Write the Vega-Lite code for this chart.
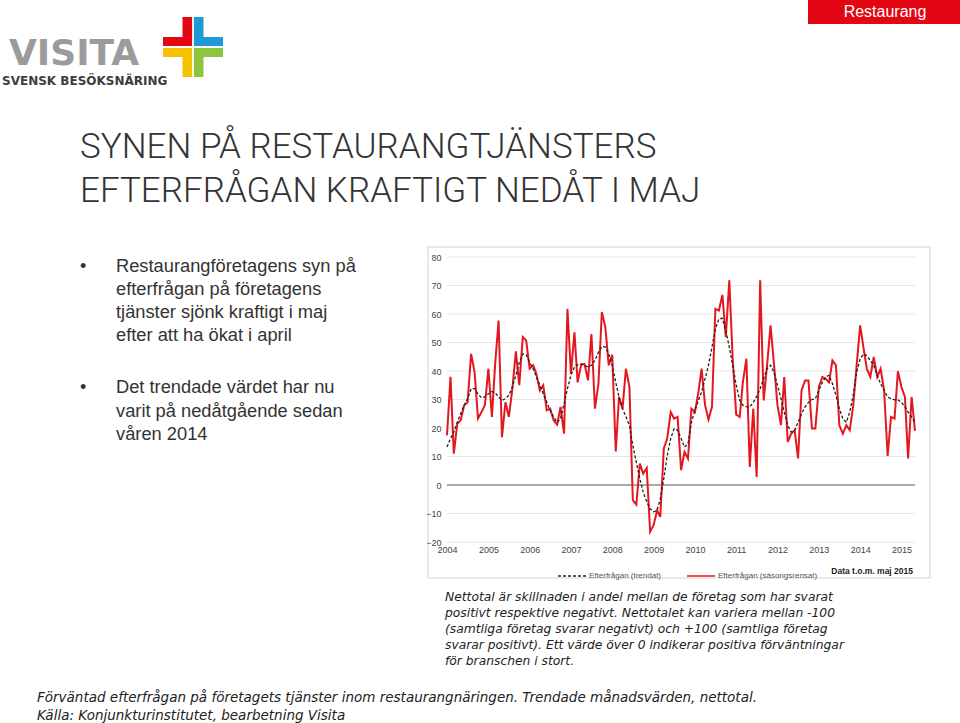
{
  "$schema": "https://vega.github.io/schema/vega-lite/v6.json",
  "width": 960,
  "height": 723,
  "padding": 0,
  "autosize": "none",
  "background": "white",
  "config": {
    "view": {"stroke": null},
    "axisX": {"domain": false, "ticks": false, "grid": false, "labelFont": "Liberation Sans", "labelFontSize": 9, "labelColor": "#444444", "labelPadding": 3, "labelOverlap": false, "labelBound": false, "labelFlush": false},
    "axisY": {"domain": false, "ticks": false, "grid": false, "labelFont": "Liberation Sans", "labelFontSize": 9, "labelColor": "#444444", "labelPadding": 2, "labelOverlap": false, "labelBound": false}
  },
  "datasets": {
    "series": [
      {"d":"2004-01-01","s":17.4,"t":13.3},{"d":"2004-02-01","s":38,"t":16.3},{"d":"2004-03-01","s":11,"t":18.6},{"d":"2004-04-01","s":21.5,"t":22},{"d":"2004-05-01","s":22.7,"t":25},{"d":"2004-06-01","s":28,"t":28},{"d":"2004-07-01","s":29,"t":30.3},{"d":"2004-08-01","s":46,"t":33.8},{"d":"2004-09-01","s":39.6,"t":33.8},{"d":"2004-10-01","s":23.3,"t":32},{"d":"2004-11-01","s":25.6,"t":30.6},{"d":"2004-12-01","s":28,"t":30.9},
      {"d":"2005-01-01","s":40.8,"t":32},{"d":"2005-02-01","s":23.9,"t":32.8},{"d":"2005-03-01","s":42,"t":32.4},{"d":"2005-04-01","s":57.7,"t":30.9},{"d":"2005-05-01","s":16.8,"t":29.7},{"d":"2005-06-01","s":29,"t":30.3},{"d":"2005-07-01","s":23.9,"t":31.5},{"d":"2005-08-01","s":33.8,"t":34.4},{"d":"2005-09-01","s":46.9,"t":38.5},{"d":"2005-10-01","s":35,"t":43},{"d":"2005-11-01","s":51.9,"t":46},{"d":"2005-12-01","s":50.7,"t":45.7},
      {"d":"2006-01-01","s":40.8,"t":43},{"d":"2006-02-01","s":42,"t":40.8},{"d":"2006-03-01","s":39,"t":37.9},{"d":"2006-04-01","s":33.2,"t":35},{"d":"2006-05-01","s":35,"t":32},{"d":"2006-06-01","s":26.2,"t":29},{"d":"2006-07-01","s":26.8,"t":26.2},{"d":"2006-08-01","s":22.7,"t":23.9},{"d":"2006-09-01","s":21.2,"t":22},{"d":"2006-10-01","s":27.4,"t":23.3},{"d":"2006-11-01","s":18,"t":28.5},{"d":"2006-12-01","s":61.8,"t":33.8},
      {"d":"2007-01-01","s":39,"t":38.5},{"d":"2007-02-01","s":53.6,"t":41.4},{"d":"2007-03-01","s":36,"t":42.2},{"d":"2007-04-01","s":42.2,"t":42.5},{"d":"2007-05-01","s":42.5,"t":42},{"d":"2007-06-01","s":36.7,"t":41.4},{"d":"2007-07-01","s":53,"t":42},{"d":"2007-08-01","s":26.8,"t":43.7},{"d":"2007-09-01","s":35.5,"t":46.6},{"d":"2007-10-01","s":60.7,"t":48.6},{"d":"2007-11-01","s":55.4,"t":48.4},{"d":"2007-12-01","s":42,"t":46},
      {"d":"2008-01-01","s":45.7,"t":42},{"d":"2008-02-01","s":11.8,"t":36},{"d":"2008-03-01","s":30.9,"t":30.9},{"d":"2008-04-01","s":26.8,"t":26.8},{"d":"2008-05-01","s":40.8,"t":24},{"d":"2008-06-01","s":34.4,"t":20.9},{"d":"2008-07-01","s":-5.3,"t":13.9},{"d":"2008-08-01","s":-6.9,"t":8},{"d":"2008-09-01","s":7.5,"t":2.2},{"d":"2008-10-01","s":4,"t":-2.5},{"d":"2008-11-01","s":6,"t":-5.9},{"d":"2008-12-01","s":-16.4,"t":-8.3},
      {"d":"2009-01-01","s":-14,"t":-9.4},{"d":"2009-02-01","s":-8.9,"t":-8.9},{"d":"2009-03-01","s":-11.2,"t":-4.8},{"d":"2009-04-01","s":12.8,"t":2.2},{"d":"2009-05-01","s":16.3,"t":10.3},{"d":"2009-06-01","s":25.6,"t":16.3},{"d":"2009-07-01","s":23.3,"t":19.8},{"d":"2009-08-01","s":23.9,"t":19.2},{"d":"2009-09-01","s":5.2,"t":16.3},{"d":"2009-10-01","s":11.6,"t":13.3},{"d":"2009-11-01","s":9.3,"t":14.5},{"d":"2009-12-01","s":26.8,"t":22},
      {"d":"2010-01-01","s":25.6,"t":26.2},{"d":"2010-02-01","s":32.6,"t":29.7},{"d":"2010-03-01","s":40.8,"t":32.6},{"d":"2010-04-01","s":28,"t":37.3},{"d":"2010-05-01","s":23,"t":42},{"d":"2010-06-01","s":27.4,"t":48.4},{"d":"2010-07-01","s":61.8,"t":54.8},{"d":"2010-08-01","s":61.2,"t":58.3},{"d":"2010-09-01","s":66.7,"t":58.5},{"d":"2010-10-01","s":51.9,"t":54.2},{"d":"2010-11-01","s":71.8,"t":48.4},{"d":"2010-12-01","s":44.3,"t":42},
      {"d":"2011-01-01","s":24.7,"t":35},{"d":"2011-02-01","s":23.9,"t":29.7},{"d":"2011-03-01","s":36.1,"t":28},{"d":"2011-04-01","s":44.3,"t":27.4},{"d":"2011-05-01","s":6.3,"t":27.4},{"d":"2011-06-01","s":26.8,"t":29},{"d":"2011-07-01","s":2.8,"t":31},{"d":"2011-08-01","s":71.8,"t":33.8},{"d":"2011-09-01","s":29.7,"t":37.3},{"d":"2011-10-01","s":42,"t":40.8},{"d":"2011-11-01","s":56,"t":42},{"d":"2011-12-01","s":42.5,"t":39.6},
      {"d":"2012-01-01","s":28,"t":35},{"d":"2012-02-01","s":21,"t":30.3},{"d":"2012-03-01","s":37.9,"t":25.6},{"d":"2012-04-01","s":15.1,"t":21},{"d":"2012-05-01","s":18,"t":18.6},{"d":"2012-06-01","s":19.2,"t":19.2},{"d":"2012-07-01","s":9.3,"t":22},{"d":"2012-08-01","s":33.2,"t":25},{"d":"2012-09-01","s":36.7,"t":27.4},{"d":"2012-10-01","s":36.7,"t":29},{"d":"2012-11-01","s":19.8,"t":30},{"d":"2012-12-01","s":19.8,"t":30.3},
      {"d":"2013-01-01","s":34.4,"t":33.2},{"d":"2013-02-01","s":37.9,"t":36},{"d":"2013-03-01","s":37.3,"t":37.9},{"d":"2013-04-01","s":36,"t":38.5},{"d":"2013-05-01","s":43.7,"t":35.5},{"d":"2013-06-01","s":42,"t":31.5},{"d":"2013-07-01","s":21,"t":26.8},{"d":"2013-08-01","s":18,"t":23.3},{"d":"2013-09-01","s":21,"t":22},{"d":"2013-10-01","s":19.2,"t":25.6},{"d":"2013-11-01","s":28,"t":31.5},{"d":"2013-12-01","s":42,"t":39.6},
      {"d":"2014-01-01","s":56,"t":44.3},{"d":"2014-02-01","s":47.8,"t":46},{"d":"2014-03-01","s":40.8,"t":45.4},{"d":"2014-04-01","s":37.9,"t":43.7},{"d":"2014-05-01","s":44.9,"t":42},{"d":"2014-06-01","s":37.9,"t":38.5},{"d":"2014-07-01","s":40.8,"t":35.5},{"d":"2014-08-01","s":33.2,"t":33.2},{"d":"2014-09-01","s":10.2,"t":30.9},{"d":"2014-10-01","s":23.9,"t":30.3},{"d":"2014-11-01","s":23.3,"t":29.9},{"d":"2014-12-01","s":39.9,"t":29.9},
      {"d":"2015-01-01","s":34.4,"t":29},{"d":"2015-02-01","s":30.9,"t":27.4},{"d":"2015-03-01","s":9.3,"t":25.6},{"d":"2015-04-01","s":30.9,"t":23.9},{"d":"2015-05-01","s":19,"t":22}
    ],
    "grid": [{"v":-20},{"v":-10},{"v":10},{"v":20},{"v":30},{"v":40},{"v":50},{"v":60},{"v":70},{"v":80}],
    "zero": [{"v":0}],
    "one": [{}]
  },
  "layer": [
    {"data": {"name": "one"}, "mark": {"type": "rect", "x": 428, "x2": 930, "y": 247, "y2": 578, "fill": null, "fillOpacity": 0, "stroke": "#e2e2e2", "strokeWidth": 1.5}},
    {"data": {"name": "grid"}, "mark": {"type": "rule", "stroke": "#e6e6e6", "strokeWidth": 1},
     "encoding": {
       "x": {"datum": {"year": 2004, "month": 1, "date": 1, "utc": true}, "type": "temporal", "scale": {"type": "utc", "domain": [{"year": 2004, "month": 1, "date": 1, "utc": true}, {"year": 2015, "month": 5, "date": 1, "utc": true}], "range": [447, 915]}, "axis": {"title": null, "zindex": 2, "offset": -181, "format": "%Y", "formatType": "utc", "tickCount": {"interval": "year", "step": 1}}},
       "x2": {"datum": {"year": 2015, "month": 5, "date": 1, "utc": true}},
       "y": {"field": "v", "type": "quantitative", "scale": {"domain": [-20, 80], "range": [542, 257]}, "axis": {"title": null, "zindex": 2, "offset": -443, "values": [-20, -10, 0, 10, 20, 30, 40, 50, 60, 70, 80]}}
     }},
    {"data": {"name": "zero"}, "mark": {"type": "rule", "stroke": "#aaaaaa", "strokeWidth": 2},
     "encoding": {
       "x": {"datum": {"year": 2004, "month": 1, "date": 1, "utc": true}, "type": "temporal"},
       "x2": {"datum": {"year": 2015, "month": 5, "date": 1, "utc": true}},
       "y": {"field": "v", "type": "quantitative"}
     }},
    {"data": {"name": "series"}, "mark": {"type": "line", "strokeWidth": 2},
     "encoding": {
       "x": {"field": "d", "type": "temporal"},
       "y": {"field": "s", "type": "quantitative"},
       "color": {"datum": "Efterfrågan (säsongsrensat)", "scale": {"domain": ["Efterfrågan (trendat)", "Efterfrågan (säsongsrensat)"], "range": ["#222222", "#e3171f"]}, "legend": {"title": null, "orient": "none", "legendX": 557, "legendY": 561, "direction": "horizontal", "symbolType": "stroke", "symbolSize": 784, "symbolStrokeWidth": 1.5, "labelFont": "Liberation Sans", "labelFontSize": 8, "labelColor": "#555555", "labelOffset": 2, "columnPadding": 22}},
       "strokeDash": {"datum": "Efterfrågan (säsongsrensat)", "scale": {"domain": ["Efterfrågan (trendat)", "Efterfrågan (säsongsrensat)"], "range": [[3, 2], [1, 0]]}, "legend": {"title": null, "orient": "none", "legendX": 557, "legendY": 561, "direction": "horizontal", "symbolType": "stroke", "symbolSize": 784, "symbolStrokeWidth": 1.5, "labelFont": "Liberation Sans", "labelFontSize": 8, "labelColor": "#555555", "labelOffset": 2, "columnPadding": 22}}
     }},
    {"data": {"name": "series"}, "mark": {"type": "line", "strokeWidth": 1.3},
     "encoding": {
       "x": {"field": "d", "type": "temporal"},
       "y": {"field": "t", "type": "quantitative"},
       "color": {"datum": "Efterfrågan (trendat)"},
       "strokeDash": {"datum": "Efterfrågan (trendat)"}
     }},
    {"data": {"name": "one"}, "mark": {"type": "text", "text": "Data t.o.m. maj 2015", "x": 913, "y": 571, "align": "right", "baseline": "middle", "font": "Liberation Sans", "fontSize": 8.5, "fontWeight": "bold", "color": "#222222"}},
    {"data": {"name": "one"}, "mark": {"type": "rect", "x": 808, "x2": 960, "y": 0, "y2": 24, "color": "#e30613"}},
    {"data": {"name": "one"}, "mark": {"type": "text", "text": "Restaurang", "x": 885, "y": 12, "align": "center", "baseline": "middle", "font": "Liberation Sans", "fontSize": 16, "color": "white"}},
    {"data": {"name": "one"}, "mark": {"type": "text", "text": "VISITA", "x": 9, "y": 65, "align": "left", "baseline": "alphabetic", "font": "DejaVu Sans", "fontSize": 36, "fontWeight": "bold", "color": "#9b9b9b"}},
    {"data": {"name": "one"}, "mark": {"type": "text", "text": "SVENSK BESÖKSNÄRING", "x": 2, "y": 85, "align": "left", "baseline": "alphabetic", "font": "DejaVu Sans", "fontSize": 12, "fontWeight": "bold", "color": "#3c3c3c"}},
    {"data": {"name": "one"}, "mark": {"type": "point", "shape": "M -0.35 -1 L -0.03 -1 L -0.03 -0.03 L -1 -0.03 L -1 -0.33 L -0.35 -0.33 Z", "filled": true, "opacity": 1, "size": 3600, "x": 193, "y": 47, "color": "#e30613"}},
    {"data": {"name": "one"}, "mark": {"type": "point", "shape": "M 0.03 -1 L 0.35 -1 L 0.35 -0.33 L 1 -0.33 L 1 -0.03 L 0.03 -0.03 Z", "filled": true, "opacity": 1, "size": 3600, "x": 193, "y": 47, "color": "#1e9ad6"}},
    {"data": {"name": "one"}, "mark": {"type": "point", "shape": "M -1 0.03 L -0.03 0.03 L -0.03 1 L -0.35 1 L -0.35 0.33 L -1 0.33 Z", "filled": true, "opacity": 1, "size": 3600, "x": 193, "y": 47, "color": "#f5c200"}},
    {"data": {"name": "one"}, "mark": {"type": "point", "shape": "M 0.03 0.03 L 1 0.03 L 1 0.33 L 0.35 0.33 L 0.35 1 L 0.03 1 Z", "filled": true, "opacity": 1, "size": 3600, "x": 193, "y": 47, "color": "#8cc63f"}},
    {"data": {"name": "one"}, "mark": {"type": "text", "text": ["SYNEN PÅ RESTAURANGTJÄNSTERS", "EFTERFRÅGAN KRAFTIGT NEDÅT I MAJ"], "x": 80, "y": 158, "lineHeight": 44, "align": "left", "baseline": "alphabetic", "font": "Roboto", "fontSize": 35, "fontWeight": 300, "color": "#333333"}},
    {"data": {"name": "one"}, "mark": {"type": "text", "text": "•", "x": 80, "y": 272, "align": "left", "baseline": "alphabetic", "font": "Liberation Sans", "fontSize": 18, "color": "#333333"}},
    {"data": {"name": "one"}, "mark": {"type": "text", "text": "•", "x": 80, "y": 393, "align": "left", "baseline": "alphabetic", "font": "Liberation Sans", "fontSize": 18, "color": "#333333"}},
    {"data": {"name": "one"}, "mark": {"type": "text", "text": ["Restaurangföretagens syn på", "efterfrågan på företagens", "tjänster sjönk kraftigt i maj", "efter att ha ökat i april"], "x": 116, "y": 272, "lineHeight": 23, "align": "left", "baseline": "alphabetic", "font": "Liberation Sans", "fontSize": 18.3, "color": "#333333"}},
    {"data": {"name": "one"}, "mark": {"type": "text", "text": ["Det trendade värdet har nu", "varit på nedåtgående sedan", "våren 2014"], "x": 116, "y": 393, "lineHeight": 23.5, "align": "left", "baseline": "alphabetic", "font": "Liberation Sans", "fontSize": 18.3, "color": "#333333"}},
    {"data": {"name": "one"}, "mark": {"type": "text", "text": ["Nettotal är skillnaden i andel mellan de företag som har svarat", "positivt respektive negativt. Nettotalet kan variera mellan -100", "(samtliga företag svarar negativt) och +100 (samtliga företag", "svarar positivt). Ett värde över 0 indikerar positiva förväntningar", "för branschen i stort."], "x": 445, "y": 601, "lineHeight": 16, "align": "left", "baseline": "alphabetic", "font": "DejaVu Sans", "fontSize": 12.3, "fontStyle": "italic", "color": "#222222"}},
    {"data": {"name": "one"}, "mark": {"type": "text", "text": ["Förväntad efterfrågan på företagets tjänster inom restaurangnäringen. Trendade månadsvärden, nettotal.", "Källa: Konjunkturinstitutet, bearbetning Visita"], "x": 37, "y": 702, "lineHeight": 18, "align": "left", "baseline": "alphabetic", "font": "DejaVu Sans", "fontSize": 13.5, "fontStyle": "italic", "color": "#222222"}}
  ]
}
